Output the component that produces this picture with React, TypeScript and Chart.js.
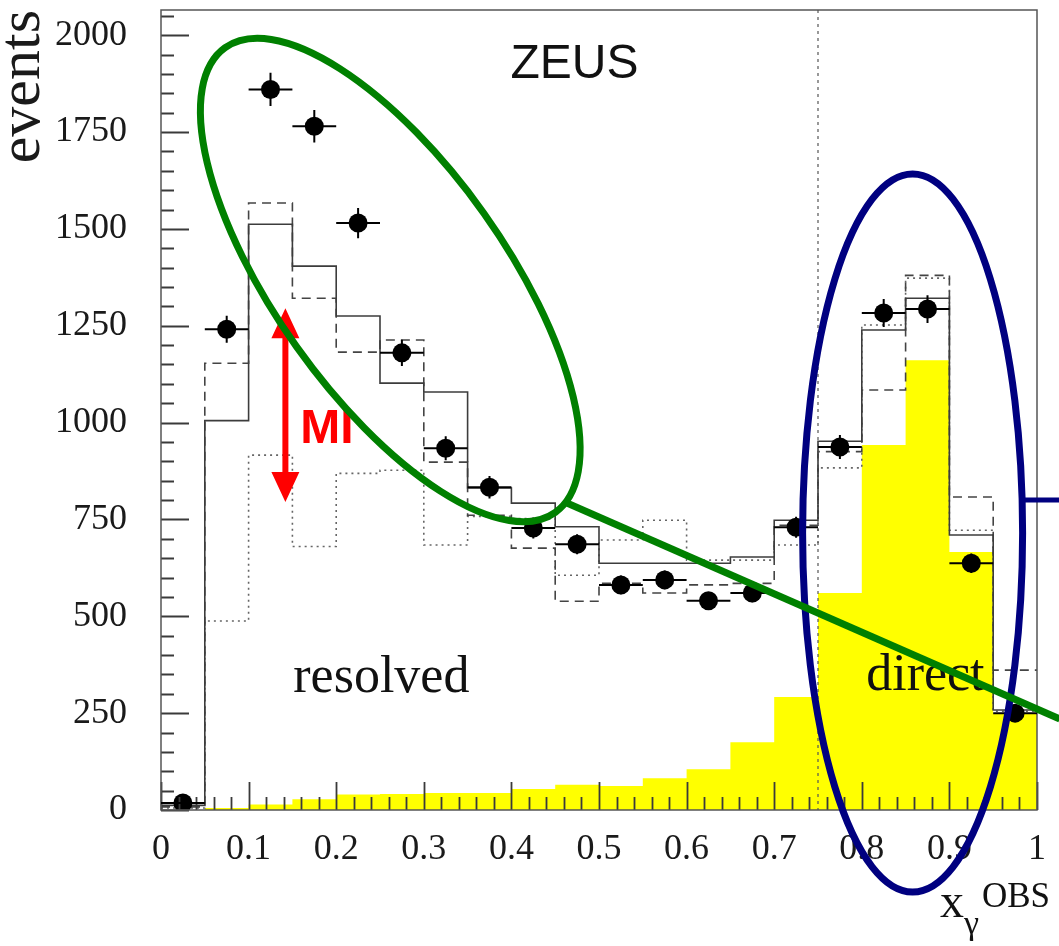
import React, { useEffect, useRef } from "react";
import { Chart, registerables } from "chart.js";

Chart.register(...registerables);

// Bin edges of x_gamma^OBS histograms (width 0.05)
const BIN_EDGES = [0, 0.05, 0.1, 0.15, 0.2, 0.25, 0.3, 0.35, 0.4, 0.45, 0.5, 0.55, 0.6, 0.65, 0.7, 0.75, 0.8, 0.85, 0.9, 0.95, 1];
const BIN_CENTERS = [0.025, 0.075, 0.125, 0.175, 0.225, 0.275, 0.325, 0.375, 0.425, 0.475, 0.525, 0.575, 0.625, 0.675, 0.725, 0.775, 0.825, 0.875, 0.925, 0.975];
const BIN_WIDTH = 0.05;

// ZEUS data: events per bin and statistical errors
const DATA_EVENTS = [18, 1241, 1860, 1765, 1515, 1180, 934, 833, 728, 686, 581, 594, 540, 560, 730, 937, 1283, 1293, 637, 250];
const DATA_ERRORS = [4, 35, 43, 42, 39, 34, 31, 29, 27, 26, 24, 24, 23, 24, 27, 31, 36, 36, 25, 16];

// Monte Carlo predictions
const MC_SOLID = [12, 1005, 1512, 1404, 1275, 1102, 1079, 831, 792, 731, 637, 637, 637, 653, 748, 952, 1239, 1321, 710, 258];
const MC_DASHED = [8, 1153, 1567, 1321, 1182, 1213, 898, 761, 676, 539, 585, 560, 581, 585, 735, 925, 1084, 1380, 808, 361];
const MC_DOTTED = [5, 488, 916, 680, 869, 877, 684, 758, 752, 606, 697, 748, 645, 645, 684, 883, 1252, 1373, 722, 255];
const MC_DIRECT = [0, 5, 14, 28, 40, 41, 44, 44, 54, 65, 62, 82, 105, 175, 292, 560, 942, 1161, 666, 250];

// Axes
const X_TICKS = [0, 0.1, 0.2, 0.3, 0.4, 0.5, 0.6, 0.7, 0.8, 0.9, 1];
const X_TICK_LABELS = ["0", "0.1", "0.2", "0.3", "0.4", "0.5", "0.6", "0.7", "0.8", "0.9", "1"];
const X_MINOR_STEP = 0.02;
const Y_TICKS = [0, 250, 500, 750, 1000, 1250, 1500, 1750, 2000];
const Y_TICK_LABELS = ["0", "250", "500", "750", "1000", "1250", "1500", "1750", "2000"];
const Y_MINOR_STEP = 50;
const Y_MAX = 2065;
const DIRECT_CUT = 0.75;

const SERIF = "'Liberation Serif', 'DejaVu Serif', serif";
const SANS = "'Liberation Sans', Arial, sans-serif";

const stepPoints = (vals: number[]) =>
  BIN_EDGES.map((x, i) => ({ x, y: vals[Math.min(i, vals.length - 1)] }));

const zeroPadding = (s: any) => {
  s.paddingTop = 0;
  s.paddingBottom = 0;
  s.paddingLeft = 0;
  s.paddingRight = 0;
};

const frameAndTicks = {
  id: "frameAndTicks",
  afterDatasetsDraw(chart: any) {
    const { ctx, chartArea: a, scales } = chart;
    const xs = scales.x;
    const ys = scales.y;
    ctx.save();
    // cut between resolved and direct regions
    ctx.strokeStyle = "#555";
    ctx.lineWidth = 1.2;
    ctx.setLineDash([3, 4]);
    const cx = xs.getPixelForValue(DIRECT_CUT);
    ctx.beginPath();
    ctx.moveTo(cx, a.top);
    ctx.lineTo(cx, a.bottom);
    ctx.stroke();
    ctx.setLineDash([]);

    // inward tick marks
    ctx.strokeStyle = "#3a3a3a";
    ctx.lineWidth = 1.8;
    ctx.beginPath();
    for (let k = 0; k * X_MINOR_STEP <= 1 + 1e-9; k++) {
      const v = k * X_MINOR_STEP;
      const major = k % 5 === 0;
      const px = Math.round(xs.getPixelForValue(v)) + 0.5;
      ctx.moveTo(px, a.bottom);
      ctx.lineTo(px, a.bottom - (major ? 28 : 13));
    }
    for (let k = 0; k * Y_MINOR_STEP <= Y_MAX; k++) {
      const v = k * Y_MINOR_STEP;
      const major = k % 5 === 0;
      const py = Math.round(ys.getPixelForValue(v)) + 0.5;
      ctx.moveTo(a.left, py);
      ctx.lineTo(a.left + (major ? 28 : 13), py);
    }
    ctx.stroke();

    // frame
    ctx.strokeStyle = "#555";
    ctx.lineWidth = 1.5;
    ctx.strokeRect(a.left, a.top, a.right - a.left, a.bottom - a.top);

    // data error bars
    ctx.strokeStyle = "#000";
    ctx.lineWidth = 2;
    ctx.beginPath();
    BIN_CENTERS.forEach((c, i) => {
      const py = ys.getPixelForValue(DATA_EVENTS[i]);
      const px = xs.getPixelForValue(c);
      ctx.moveTo(xs.getPixelForValue(c - BIN_WIDTH / 2), py);
      ctx.lineTo(xs.getPixelForValue(c + BIN_WIDTH / 2), py);
      ctx.moveTo(px, ys.getPixelForValue(DATA_EVENTS[i] - DATA_ERRORS[i]));
      ctx.lineTo(px, ys.getPixelForValue(DATA_EVENTS[i] + DATA_ERRORS[i]));
    });
    ctx.stroke();
    ctx.restore();
  },
};

const annotations = {
  id: "annotations",
  afterDraw(chart: any) {
    const { ctx, chartArea: a, scales, width } = chart;
    const xs = scales.x;
    const ys = scales.y;
    const X = (v: number) => xs.getPixelForValue(v);
    const Y = (v: number) => ys.getPixelForValue(v);
    ctx.save();

    // labels inside the frame
    ctx.fillStyle = "#111";
    ctx.textBaseline = "alphabetic";
    ctx.textAlign = "left";
    ctx.font = `48px ${SANS}`;
    ctx.fillText("ZEUS", X(0.399), Y(1890));
    ctx.font = `52px ${SERIF}`;
    ctx.fillText("resolved", X(0.151), Y(305));
    ctx.fillText("direct", X(0.805), Y(310));

    // multiparton interaction arrow
    const ax = X(0.142);
    const aTop = Y(1295);
    const aBot = Y(795);
    const head = 30;
    const hw = 14;
    ctx.fillStyle = "#ff0000";
    ctx.strokeStyle = "#ff0000";
    ctx.lineWidth = 6;
    ctx.beginPath();
    ctx.moveTo(ax, aTop + head - 2);
    ctx.lineTo(ax, aBot - head + 2);
    ctx.stroke();
    ctx.beginPath();
    ctx.moveTo(ax, aTop);
    ctx.lineTo(ax - hw, aTop + head);
    ctx.lineTo(ax + hw, aTop + head);
    ctx.closePath();
    ctx.moveTo(ax, aBot);
    ctx.lineTo(ax - hw, aBot - head);
    ctx.lineTo(ax + hw, aBot - head);
    ctx.closePath();
    ctx.fill();
    ctx.font = `bold 48px ${SANS}`;
    ctx.fillText("MI", X(0.159), Y(947));

    // direct region highlight
    ctx.strokeStyle = "#000080";
    ctx.lineWidth = 7;
    const bcx = X(0.858);
    const bcy = Y(715);
    const brx = 110;
    const bry = 359;
    ctx.beginPath();
    ctx.ellipse(bcx, bcy, brx, bry, 0, 0, Math.PI * 2);
    ctx.stroke();
    const ly = Y(800);
    const dy = (ly - bcy) / bry;
    ctx.lineWidth = 5;
    ctx.beginPath();
    ctx.moveTo(bcx + brx * Math.sqrt(1 - dy * dy), ly);
    ctx.lineTo(width, ly);
    ctx.stroke();

    // resolved region highlight
    ctx.strokeStyle = "#008000";
    ctx.lineWidth = 7;
    ctx.beginPath();
    ctx.ellipse(X(0.2617), Y(1368), 285, 115, (54.6 * Math.PI) / 180, 0, Math.PI * 2);
    ctx.stroke();
    ctx.beginPath();
    ctx.moveTo(X(0.464), Y(792));
    ctx.lineTo(X(1.026), Y(235));
    ctx.stroke();

    // x axis title: x_gamma^OBS
    ctx.fillStyle = "#111";
    ctx.font = `48px ${SERIF}`;
    ctx.fillText("x", a.right - 97, a.bottom + 107);
    ctx.font = `34px ${SERIF}`;
    ctx.fillText("γ", a.right - 73, a.bottom + 124);
    ctx.font = `35px ${SERIF}`;
    ctx.fillText("OBS", a.right - 55, a.bottom + 97);
    ctx.restore();
  },
};

export default function App() {
  const ref = useRef<HTMLCanvasElement | null>(null);

  useEffect(() => {
    if (!ref.current) return;
    const histo = (vals: number[], color: string, dash: number[], order: number) => ({
      type: "line" as const,
      data: stepPoints(vals),
      stepped: "before" as const,
      borderColor: color,
      borderWidth: 1.6,
      borderDash: dash,
      pointRadius: 0,
      fill: false,
      order,
    });
    const chart = new Chart(ref.current, {
      type: "line",
      data: {
        datasets: [
          {
            type: "scatter",
            data: BIN_CENTERS.map((x, i) => ({ x, y: DATA_EVENTS[i] })),
            pointRadius: 9.5,
            pointBackgroundColor: "#000",
            pointBorderWidth: 0,
            showLine: false,
            order: 0,
          } as any,
          histo(MC_SOLID, "#3c3c3c", [], 1),
          histo(MC_DASHED, "#444", [9, 6], 2),
          histo(MC_DOTTED, "#666", [2, 4], 3),
          {
            type: "line",
            data: stepPoints(MC_DIRECT),
            stepped: "before",
            borderWidth: 0,
            borderColor: "rgba(0,0,0,0)",
            backgroundColor: "#ffff00",
            pointRadius: 0,
            fill: "origin",
            order: 4,
          } as any,
        ],
      },
      options: {
        animation: false,
        responsive: false,
        maintainAspectRatio: false,
        devicePixelRatio: 1,
        layout: { padding: { top: 10, right: 22, left: 0, bottom: 0 } },
        plugins: { legend: { display: false }, tooltip: { enabled: false } },
        scales: {
          x: {
            type: "linear",
            min: 0,
            max: 1,
            grid: { display: false, drawTicks: false },
            border: { display: false },
            afterBuildTicks: (s: any) => {
              s.ticks = X_TICKS.map((value) => ({ value }));
            },
            afterFit: (s: any) => {
              s.height = 136;
              zeroPadding(s);
            },
            ticks: {
              autoSkip: false,
              maxRotation: 0,
              padding: 18,
              color: "#1a1a1a",
              font: { family: SERIF, size: 36 },
              callback: (_v: any, i: number) => X_TICK_LABELS[i],
            },
          },
          y: {
            type: "linear",
            min: 0,
            max: Y_MAX,
            grid: { display: false, drawTicks: false },
            border: { display: false },
            afterBuildTicks: (s: any) => {
              s.ticks = Y_TICKS.map((value) => ({ value }));
            },
            afterFit: (s: any) => {
              s.width = 161;
              zeroPadding(s);
            },
            title: {
              display: true,
              text: "events",
              align: "end",
              color: "#1a1a1a",
              font: { family: SERIF, size: 60, lineHeight: 0.78 },
              padding: 0,
            },
            ticks: {
              autoSkip: false,
              padding: 34,
              color: "#1a1a1a",
              font: { family: SERIF, size: 36 },
              callback: (_v: any, i: number) => Y_TICK_LABELS[i],
            },
          },
        },
      },
      plugins: [frameAndTicks, annotations],
    });
    return () => chart.destroy();
  }, []);

  return (
    <div style={{ position: "absolute", left: 0, top: 0, width: 1059, height: 946, background: "#fff" }}>
      <canvas ref={ref} width={1059} height={946} />
    </div>
  );
}
